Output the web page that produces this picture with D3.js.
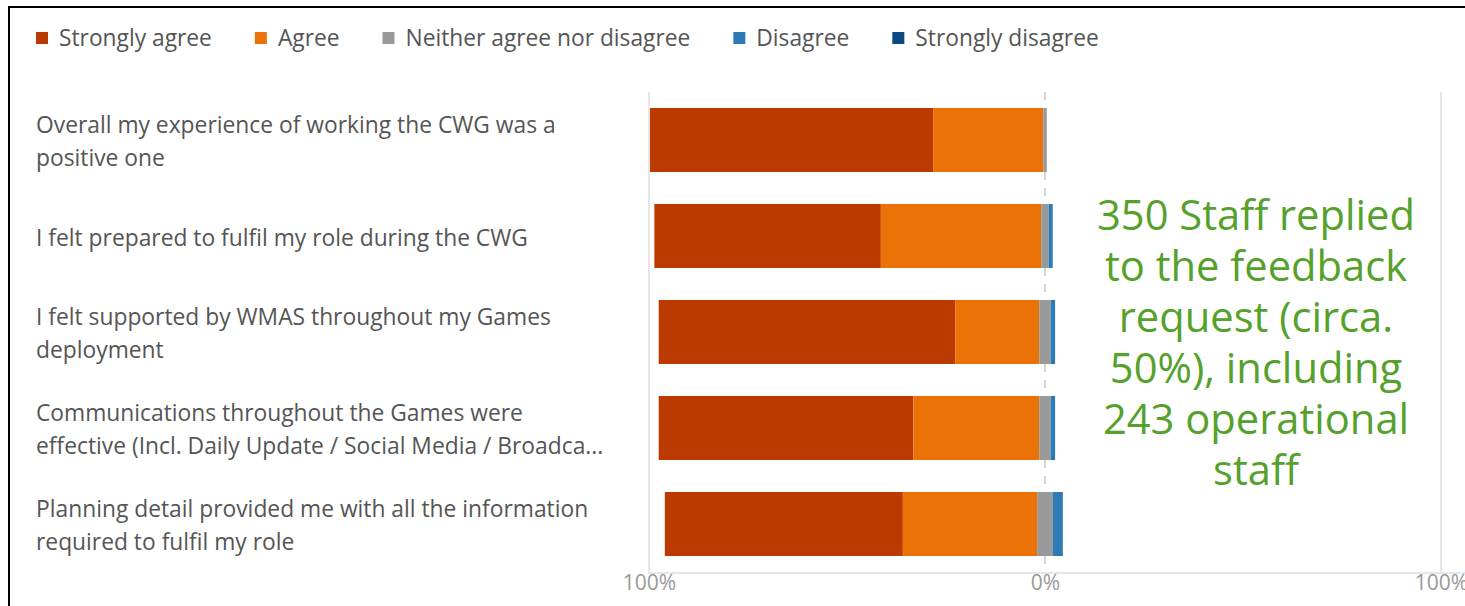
<!doctype html>
<html>
<head>
<meta charset="utf-8">
<title>CWG staff feedback</title>
<script src="https://d3js.org/d3.v7.min.js"></script>
<style>
    body { margin: 0; background: #fff; overflow: hidden; }
    svg { display: block; }
</style>
</head>
<body>
<svg width="1465" height="606"></svg>
<script>

// responses, percent of answers for each statement
var questions = [
    ["Overall my experience of working the CWG was a", "positive one"],
    ["I felt prepared to fulfil my role during the CWG"],
    ["I felt supported by WMAS throughout my Games", "deployment"],
    ["Communications throughout the Games were", "effective (Incl. Daily Update / Social Media / Broadca..."],
    ["Planning detail provided me with all the information", "required to fulfil my role"]
];
var answers = ["Strongly agree", "Agree", "Neither agree nor disagree", "Disagree", "Strongly disagree"];
var stronglyAgree    = [71.5, 57.2, 74.9, 64.3, 60.1];
var agree            = [27.8, 40.5, 21.2, 31.8, 33.9];
var neither          = [0.9, 1.9, 2.9, 2.9, 4.0];
var disagree         = [0, 1.0, 1.1, 1.1, 2.5];
var stronglyDisagree = [0, 0, 0, 0, 0];
var tickValues = [-100, 0, 100];
var note = ["350 Staff replied", "to the feedback", "request (circa.", "50%), including", "243 operational", "staff"];

var colors = ["#ba3a00", "#eb7207", "#999999", "#2c7bb6", "#0b4a80"];
var font = "'Open Sans', sans-serif";

var svg = d3.select("svg");

// frame (only top and left edges fall inside the picture)
svg.append("path")
   .attr("d", "M9,606V7H1465")
   .attr("fill", "none")
   .attr("stroke", "#000")
   .attr("stroke-width", 2);

// fit a font size so that a string is a given width
function fitSize(str, target, family) {
    var t = svg.append("text").attr("font-family", family).attr("font-size", 20).text(str);
    var w = t.node().getComputedTextLength();
    t.remove();
    return 20 * target / w;
}

var rows = questions.map(function(q, i) {
    return {
        label: q,
        values: [stronglyAgree[i], agree[i], neither[i], disagree[i], stronglyDisagree[i]]
    };
});

var x = d3.scaleLinear().domain([-100, 100]).range([649, 1441]);
var y = d3.scaleBand().domain(d3.range(questions.length)).range([92, 572])
          .paddingInner(1 / 3).paddingOuter(1 / 6);

// grid lines
var grid = svg.append("g");
grid.selectAll("line")
    .data(tickValues)
    .enter().append("line")
    .attr("x1", function(d) { return x(d); })
    .attr("x2", function(d) { return x(d); })
    .attr("y1", 92)
    .attr("y2", 573)
    .attr("stroke", function(d) { return d === 0 ? "#d4d4d4" : "#e6e6e6"; })
    .attr("stroke-width", 2)
    .attr("stroke-dasharray", function(d) { return d === 0 ? "8,8" : null; });

grid.append("line")
    .attr("x1", x(-100) - 1).attr("x2", 1465)
    .attr("y1", 573).attr("y2", 573)
    .attr("stroke", "#e6e6e6")
    .attr("stroke-width", 2);

// bars: neutral split around zero
var bars = svg.append("g");
rows.forEach(function(r, i) {
    var v = r.values;
    var start = -(v[0] + v[1] + v[2] / 2);
    var segs = [];
    v.forEach(function(val, k) {
        segs.push({ k: k, x0: start, x1: start + val });
        start += val;
    });
    bars.selectAll(".row" + i)
        .data(segs.filter(function(s) { return s.x1 > s.x0; }))
        .enter().append("rect")
        .attr("class", "row" + i)
        .attr("x", function(s) { return x(s.x0); })
        .attr("y", y(i))
        .attr("width", function(s) { return x(s.x1) - x(s.x0); })
        .attr("height", y.bandwidth())
        .attr("fill", function(s) { return colors[s.k]; });
});

// axis
var axis = svg.append("g")
    .attr("transform", "translate(0,573)")
    .call(d3.axisBottom(x)
        .tickValues(tickValues)
        .tickSize(0)
        .tickPadding(2)
        .tickFormat(function(d) { return Math.abs(d) + "%"; }));
axis.select(".domain").remove();
axis.selectAll("text")
    .attr("font-family", font)
    .attr("font-size", 21)
    .attr("fill", "#999");

// category labels
var labelSize = fitSize(questions[0][0], 520, font);
var labels = svg.append("g")
    .attr("font-family", font)
    .attr("font-size", labelSize)
    .attr("fill", "#555");
rows.forEach(function(r, i) {
    var cy = y(i) + y.bandwidth() / 2 + 2;
    var lh = 33;
    var top = cy - (r.label.length - 1) * lh / 2;
    var t = labels.append("text").attr("x", 36);
    r.label.forEach(function(line, j) {
        t.append("tspan")
         .attr("x", 36)
         .attr("y", top + j * lh)
         .attr("dy", "0.35em")
         .text(line);
    });
});

// legend
var legSize = fitSize("Strongly agree", 153, font);
var legend = svg.append("g")
    .attr("font-family", font)
    .attr("font-size", legSize)
    .attr("fill", "#555");
var lx = 36;
answers.forEach(function(a, k) {
    legend.append("rect")
          .attr("x", lx).attr("y", 32)
          .attr("width", 12).attr("height", 12)
          .attr("fill", colors[k]);
    var t = legend.append("text")
          .attr("x", lx + 23).attr("y", 38)
          .attr("dy", "0.35em")
          .text(a);
    lx += 23 + t.node().getComputedTextLength() + 43;
});

// note
var noteSize = fitSize(note[0], 318, font);
var noteG = svg.append("g")
    .attr("font-family", font)
    .attr("font-size", noteSize)
    .attr("fill", "#55a12b")
    .attr("text-anchor", "middle");
noteG.selectAll("text")
    .data(note)
    .enter().append("text")
    .attr("x", 1256)
    .attr("y", function(d, i) { return 230 + i * 51; })
    .text(function(d) { return d; });

</script>
</body>
</html>
